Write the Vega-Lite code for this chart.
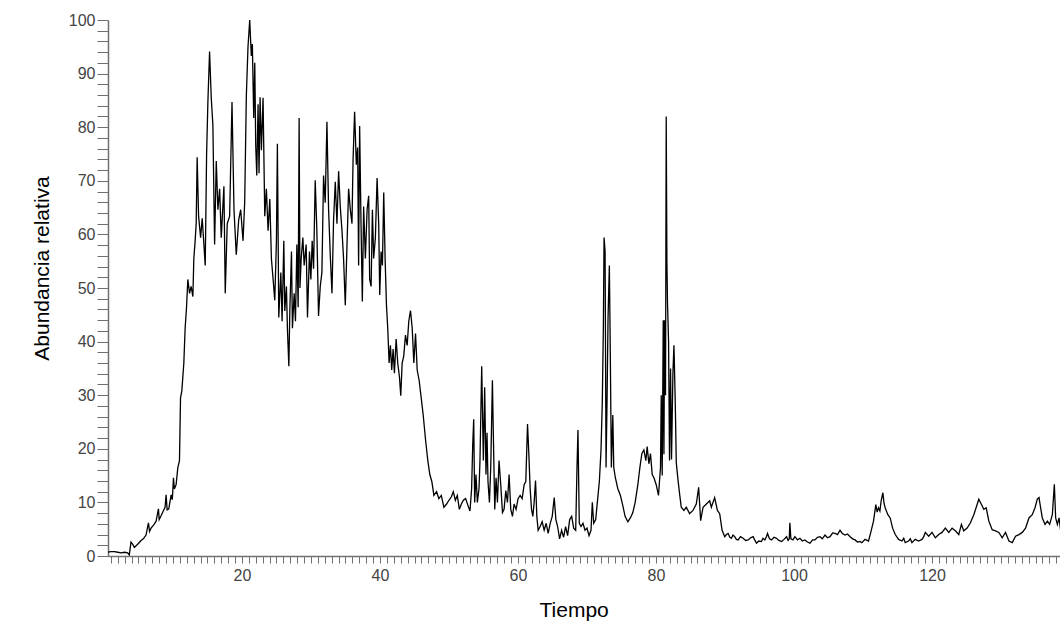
{
  "$schema": "https://vega.github.io/schema/vega-lite/v6.json",
  "width": 952,
  "height": 536,
  "autosize": {"type": "none"},
  "padding": {"left": 108, "top": 20, "right": 0, "bottom": 72},
  "background": "white",
  "config": {"view": {"stroke": null}, "font": "Liberation Sans"},
  "data": {"values": [
    {"t":0.52,"v":0.7},{"t":1.0,"v":0.8},{"t":1.5,"v":0.8},{"t":2.0,"v":0.7},{"t":2.46,"v":0.6},{"t":3.0,"v":0.7},{"t":3.43,"v":0.6},{"t":3.67,"v":0.2},{"t":3.91,"v":2.6},{"t":4.15,"v":2.2},{"t":4.4,"v":1.6},{"t":4.88,"v":2.2},{"t":5.37,"v":2.9},{"t":5.7,"v":3.2},{"t":6.09,"v":3.9},{"t":6.44,"v":6.2},{"t":6.6,"v":4.6},{"t":6.82,"v":5.2},{"t":7.21,"v":5.8},{"t":7.55,"v":6.5},{"t":7.89,"v":8.8},{"t":8.0,"v":6.8},{"t":8.27,"v":7.5},{"t":8.85,"v":9.1},{"t":9.0,"v":11.4},{"t":9.15,"v":8.6},{"t":9.39,"v":8.8},{"t":9.73,"v":11.4},{"t":9.9,"v":10.5},{"t":10.07,"v":14.6},{"t":10.2,"v":12.5},{"t":10.45,"v":13.3},{"t":10.7,"v":16.5},{"t":10.94,"v":17.8},{"t":11.09,"v":29.5},{"t":11.28,"v":30.8},{"t":11.57,"v":36},{"t":11.76,"v":42.5},{"t":11.96,"v":46.4},{"t":12.15,"v":51.6},{"t":12.4,"v":49},{"t":12.63,"v":50.3},{"t":12.88,"v":48.4},{"t":13.02,"v":55.5},{"t":13.21,"v":58.8},{"t":13.36,"v":62},{"t":13.5,"v":74.4},{"t":13.71,"v":63.4},{"t":14.0,"v":59.4},{"t":14.23,"v":63},{"t":14.48,"v":58.1},{"t":14.67,"v":54.2},{"t":14.87,"v":75},{"t":15.06,"v":84.9},{"t":15.3,"v":94.1},{"t":15.54,"v":85.6},{"t":15.78,"v":80.4},{"t":16.03,"v":58.1},{"t":16.27,"v":73.7},{"t":16.51,"v":64.6},{"t":16.76,"v":68.5},{"t":16.99,"v":59.4},{"t":17.38,"v":69},{"t":17.57,"v":49},{"t":17.86,"v":62},{"t":18.21,"v":63.4},{"t":18.55,"v":84.7},{"t":18.84,"v":64.6},{"t":19.17,"v":56.2},{"t":19.52,"v":62.7},{"t":19.81,"v":64.6},{"t":20.15,"v":58.8},{"t":20.39,"v":66},{"t":20.63,"v":85.9},{"t":20.87,"v":95},{"t":21.12,"v":100},{"t":21.35,"v":93.3},{"t":21.5,"v":95.5},{"t":21.7,"v":81.7},{"t":21.85,"v":92},{"t":21.99,"v":76.6},{"t":22.14,"v":71},{"t":22.33,"v":84.3},{"t":22.47,"v":71.4},{"t":22.62,"v":85.6},{"t":22.81,"v":75.7},{"t":23.05,"v":85.5},{"t":23.3,"v":63.4},{"t":23.53,"v":68.5},{"t":23.78,"v":60.7},{"t":24.03,"v":66.6},{"t":24.26,"v":55.5},{"t":24.51,"v":51.6},{"t":24.75,"v":47.7},{"t":24.99,"v":58.8},{"t":25.13,"v":76.9},{"t":25.33,"v":44.5},{"t":25.63,"v":52.9},{"t":25.81,"v":43.8},{"t":26.06,"v":58.8},{"t":26.2,"v":45.7},{"t":26.44,"v":50.3},{"t":26.58,"v":42.5},{"t":26.79,"v":35.4},{"t":26.93,"v":45.7},{"t":27.17,"v":56.8},{"t":27.31,"v":42.5},{"t":27.56,"v":49},{"t":27.75,"v":43.8},{"t":27.95,"v":58.1},{"t":28.14,"v":46.4},{"t":28.28,"v":81.7},{"t":28.4,"v":50},
    {"t":28.58,"v":55.5},{"t":28.82,"v":59.4},{"t":29.01,"v":54.2},{"t":29.3,"v":58.1},{"t":29.49,"v":44.5},{"t":29.78,"v":56.8},{"t":29.98,"v":51.6},{"t":30.17,"v":58.8},{"t":30.37,"v":53.6},{"t":30.61,"v":70.1},{"t":30.85,"v":60.7},{"t":31.09,"v":44.8},{"t":31.34,"v":50.3},{"t":31.58,"v":52.9},{"t":31.82,"v":71},{"t":32.06,"v":65.9},{"t":32.31,"v":81},{"t":32.55,"v":64.6},{"t":32.79,"v":56.2},{"t":33.04,"v":49},{"t":33.27,"v":62.7},{"t":33.52,"v":69.8},{"t":33.76,"v":62},{"t":34.0,"v":71.8},{"t":34.24,"v":65.2},{"t":34.49,"v":60.7},{"t":34.72,"v":55.5},{"t":34.97,"v":46.8},{"t":35.22,"v":58.1},{"t":35.45,"v":68.5},{"t":35.7,"v":64.6},{"t":35.94,"v":62},{"t":36.09,"v":73.6},{"t":36.32,"v":82.9},{"t":36.57,"v":73},{"t":36.76,"v":76.2},{"t":36.9,"v":54.2},{"t":37.05,"v":80.2},{"t":37.25,"v":62},{"t":37.44,"v":47.5},{"t":37.63,"v":65.2},{"t":37.88,"v":55.5},{"t":38.13,"v":64.6},{"t":38.36,"v":67.2},{"t":38.5,"v":51.6},{"t":38.71,"v":50.3},{"t":38.9,"v":64.6},{"t":39.08,"v":55.5},{"t":39.33,"v":59.4},{"t":39.58,"v":70.5},{"t":39.81,"v":62},{"t":39.96,"v":48.7},{"t":40.16,"v":56.8},{"t":40.35,"v":54.2},{"t":40.54,"v":67.8},{"t":40.74,"v":55.5},{"t":40.93,"v":47},{"t":41.12,"v":42.5},{"t":41.32,"v":36},{"t":41.51,"v":39.3},{"t":41.7,"v":34.7},{"t":41.9,"v":38.6},{"t":42.09,"v":34.1},{"t":42.34,"v":40.5},{"t":42.57,"v":36},{"t":42.82,"v":33.4},{"t":43.01,"v":29.9},{"t":43.21,"v":36},{"t":43.44,"v":37.3},{"t":43.69,"v":41.2},{"t":43.94,"v":39.3},{"t":44.17,"v":43.8},{"t":44.42,"v":45.8},{"t":44.67,"v":42.5},{"t":44.9,"v":36},{"t":45.15,"v":41.5},{"t":45.39,"v":34.7},{"t":45.68,"v":32.7},{"t":45.97,"v":29.5},{"t":46.26,"v":26.3},{"t":46.6,"v":21.7},{"t":46.93,"v":17.8},{"t":47.22,"v":15.2},{"t":47.51,"v":13.9},{"t":47.81,"v":11.3},{"t":48.2,"v":12},{"t":48.53,"v":10.7},{"t":48.88,"v":11.3},{"t":49.26,"v":9.1},{"t":49.65,"v":9.7},{"t":49.99,"v":10.4},{"t":50.33,"v":11},{"t":50.62,"v":12},{"t":50.92,"v":10.4},{"t":51.2,"v":11.3},{"t":51.5,"v":8.7},{"t":51.79,"v":9.7},{"t":52.08,"v":10.4},{"t":52.41,"v":10.7},{"t":52.75,"v":9.4},{"t":53.04,"v":8.4},{"t":53.28,"v":12.6},{"t":53.43,"v":20.4},{"t":53.58,"v":25.5},{"t":53.72,"v":10},{"t":53.91,"v":15.2},{"t":54.11,"v":10},{"t":54.35,"v":12.6},{"t":54.49,"v":17.8},
    {"t":54.74,"v":35.4},{"t":54.98,"v":17.8},{"t":55.17,"v":31.5},{"t":55.36,"v":15.2},{"t":55.51,"v":23},{"t":55.65,"v":13.9},{"t":55.86,"v":10},{"t":56.05,"v":16.5},{"t":56.29,"v":32.8},{"t":56.44,"v":21.7},{"t":56.63,"v":8.7},{"t":56.82,"v":14.6},{"t":57.02,"v":10},{"t":57.25,"v":17.8},{"t":57.5,"v":13.3},{"t":57.75,"v":8.1},{"t":57.98,"v":8.7},{"t":58.23,"v":12.2},{"t":58.47,"v":10},{"t":58.71,"v":15.2},{"t":58.95,"v":8.7},{"t":59.2,"v":7.4},{"t":59.43,"v":9.7},{"t":59.72,"v":8.7},{"t":60.01,"v":10.7},{"t":60.31,"v":11.3},{"t":60.6,"v":10.7},{"t":60.89,"v":13.3},{"t":61.13,"v":13.9},{"t":61.38,"v":24.6},{"t":61.57,"v":19.1},{"t":61.76,"v":12.6},{"t":61.96,"v":8.7},{"t":62.15,"v":7.4},{"t":62.34,"v":10},{"t":62.54,"v":14.1},{"t":62.73,"v":7.4},{"t":62.92,"v":4.8},{"t":63.21,"v":5.5},{"t":63.5,"v":6.4},{"t":63.79,"v":4.8},{"t":64.08,"v":6.1},{"t":64.37,"v":4.2},{"t":64.67,"v":6.1},{"t":64.96,"v":7.4},{"t":65.25,"v":10.9},{"t":65.49,"v":6.8},{"t":65.74,"v":5.5},{"t":66.03,"v":3.2},{"t":66.32,"v":4.8},{"t":66.61,"v":3.5},{"t":66.9,"v":5.5},{"t":67.19,"v":3.8},{"t":67.49,"v":6.8},{"t":67.78,"v":7.4},{"t":68.07,"v":5.2},{"t":68.36,"v":4.8},{"t":68.55,"v":16.5},{"t":68.69,"v":23.5},{"t":68.88,"v":6.1},{"t":69.13,"v":5.5},{"t":69.42,"v":6.1},{"t":69.71,"v":4.8},{"t":70.0,"v":5.2},{"t":70.29,"v":3.8},{"t":70.58,"v":4.8},{"t":70.77,"v":10},{"t":70.97,"v":6.1},{"t":71.26,"v":6.8},{"t":71.55,"v":10.7},{"t":71.79,"v":13.9},{"t":72.03,"v":19.8},{"t":72.22,"v":28.9},{"t":72.37,"v":42.5},{"t":72.47,"v":59.4},{"t":72.62,"v":56.9},{"t":72.76,"v":16.5},{"t":72.91,"v":29.5},{"t":73.05,"v":44.5},{"t":73.24,"v":54.2},{"t":73.39,"v":36},{"t":73.53,"v":16.5},{"t":73.74,"v":26.3},{"t":73.88,"v":16.5},{"t":74.11,"v":14.6},{"t":74.46,"v":12.6},{"t":74.84,"v":11.3},{"t":75.19,"v":9.4},{"t":75.52,"v":7.4},{"t":75.92,"v":6.4},{"t":76.29,"v":7.1},{"t":76.64,"v":8.1},{"t":76.98,"v":10},{"t":77.37,"v":13.3},{"t":77.66,"v":16.5},{"t":77.95,"v":19.1},{"t":78.24,"v":19.8},{"t":78.53,"v":17.8},{"t":78.72,"v":20.4},{"t":78.97,"v":17.2},{"t":79.2,"v":19.1},{"t":79.45,"v":15.2},{"t":79.7,"v":14.6},{"t":80.03,"v":13.3},{"t":80.36,"v":11.3},{"t":80.65,"v":16.5},
    {"t":80.76,"v":30},{"t":80.9,"v":15},{"t":81.05,"v":44},{"t":81.15,"v":19},{"t":81.24,"v":44},{"t":81.38,"v":30},{"t":81.48,"v":82},{"t":81.58,"v":55},{"t":81.67,"v":47},{"t":81.82,"v":40},{"t":81.96,"v":17.8},{"t":82.11,"v":35},{"t":82.25,"v":18},{"t":82.45,"v":34},{"t":82.6,"v":39.3},{"t":82.79,"v":28.7},{"t":82.94,"v":17.4},{"t":83.18,"v":14.3},{"t":83.42,"v":11.6},{"t":83.66,"v":9.1},{"t":84.05,"v":8.5},{"t":84.39,"v":9.1},{"t":84.87,"v":7.9},{"t":85.36,"v":8.5},{"t":85.84,"v":9.7},{"t":86.18,"v":12.8},{"t":86.47,"v":6.6},{"t":86.82,"v":9.1},{"t":87.3,"v":9.7},{"t":87.78,"v":10.3},{"t":88.02,"v":9.1},{"t":88.5,"v":10.9},{"t":88.9,"v":8.5},{"t":89.23,"v":7.9},{"t":89.58,"v":4.8},
    {"t":89.96,"v":3.6},{"t":90.2,"v":4.0},{"t":90.45,"v":4.2},{"t":90.7,"v":3.5},{"t":90.93,"v":3.3},{"t":91.15,"v":3.9},{"t":91.41,"v":3.6},{"t":91.65,"v":3.1},{"t":91.9,"v":3.0},{"t":92.25,"v":3.6},{"t":92.63,"v":3.3},{"t":93.0,"v":2.9},{"t":93.36,"v":3.0},{"t":93.7,"v":3.4},{"t":94.08,"v":3.6},{"t":94.3,"v":3.0},{"t":94.56,"v":2.4},{"t":94.9,"v":2.8},{"t":95.29,"v":2.7},{"t":95.5,"v":3.3},{"t":95.77,"v":3.0},{"t":96.0,"v":3.6},{"t":96.16,"v":4.2},{"t":96.45,"v":3.2},{"t":96.74,"v":3.0},{"t":97.1,"v":3.5},{"t":97.47,"v":3.3},{"t":97.8,"v":2.9},{"t":98.2,"v":2.7},{"t":98.55,"v":3.1},{"t":98.92,"v":3.6},{"t":99.15,"v":2.9},{"t":99.31,"v":3.2},{"t":99.4,"v":6.2},{"t":99.55,"v":3.2},{"t":99.85,"v":3.0},{"t":100.13,"v":3.6},{"t":100.5,"v":3.0},{"t":100.86,"v":3.3},{"t":101.2,"v":2.8},{"t":101.58,"v":3.0},{"t":101.95,"v":2.6},{"t":102.31,"v":2.4},{"t":102.7,"v":3.0},{"t":103.04,"v":3.0},{"t":103.4,"v":3.5},{"t":103.77,"v":3.6},{"t":104.1,"v":3.2},{"t":104.49,"v":3.9},{"t":104.85,"v":3.4},{"t":105.22,"v":3.6},{"t":105.6,"v":4.3},{"t":105.95,"v":4.2},{"t":106.3,"v":4.0},{"t":106.67,"v":4.8},{"t":107.0,"v":4.2},{"t":107.4,"v":3.9},{"t":107.75,"v":4.1},{"t":108.13,"v":3.6},{"t":108.5,"v":3.2},{"t":108.85,"v":3.0},{"t":109.2,"v":2.6},{"t":109.5,"v":2.7},
    {"t":109.83,"v":2.5},{"t":110.3,"v":3.1},{"t":110.8,"v":2.8},{"t":111.18,"v":4.7},{"t":111.52,"v":6.5},{"t":111.86,"v":9.6},{"t":112.05,"v":8.2},{"t":112.25,"v":9},{"t":112.45,"v":8.4},{"t":112.63,"v":10.3},{"t":112.88,"v":11.8},{"t":113.05,"v":9.8},{"t":113.21,"v":9},{"t":113.6,"v":7.7},{"t":113.94,"v":7.1},{"t":114.29,"v":5.2},{"t":114.67,"v":4},{"t":115.16,"v":3.1},{"t":115.64,"v":2.8},{"t":115.9,"v":3.3},{"t":116.12,"v":2.5},{"t":116.61,"v":2.8},{"t":116.85,"v":3.2},{"t":117.09,"v":2.5},{"t":117.57,"v":3.1},{"t":118.06,"v":2.8},{"t":118.55,"v":3.1},{"t":118.8,"v":3.6},{"t":119.03,"v":4.4},{"t":119.52,"v":3.7},{"t":120.0,"v":4.4},{"t":120.48,"v":3.4},{"t":120.97,"v":4},{"t":121.45,"v":4.4},{"t":121.93,"v":5.2},{"t":122.43,"v":4.4},{"t":122.91,"v":5.2},{"t":123.39,"v":4.7},{"t":123.88,"v":4},{"t":124.26,"v":5.9},{"t":124.6,"v":4.7},{"t":125.09,"v":5.2},{"t":125.57,"v":6.2},{"t":126.06,"v":7.7},{"t":126.54,"v":9.6},{"t":126.78,"v":10.6},{"t":127.17,"v":9.6},{"t":127.51,"v":8.7},{"t":127.85,"v":9},{"t":128.24,"v":6.5},{"t":128.72,"v":4.9},{"t":129.2,"v":4.7},{"t":129.69,"v":4.4},{"t":130.17,"v":3.4},{"t":130.65,"v":4.4},{"t":131.15,"v":2.8},{"t":131.63,"v":2.5},{"t":132.11,"v":3.7},{"t":132.6,"v":4},{"t":133.08,"v":4.4},{"t":133.56,"v":5.2},{"t":134.05,"v":7.1},{"t":134.53,"v":7.7},{"t":134.93,"v":9},{"t":135.26,"v":10.6},{"t":135.51,"v":10.9},{"t":135.74,"v":9},{"t":135.99,"v":7.1},{"t":136.38,"v":5.9},{"t":136.72,"v":6.5},{"t":137.05,"v":5.9},{"t":137.44,"v":7.7},{"t":137.73,"v":13.4},{"t":137.92,"v":7.1},{"t":138.17,"v":5.9},{"t":138.41,"v":7.1},{"t":138.65,"v":4.7},{"t":138.8,"v":19.6},{"t":138.9,"v":22}
  ]},
  "mark": {"type": "line", "color": "black", "strokeWidth": 1.3, "clip": true, "interpolate": "linear"},
  "encoding": {
    "x": {
      "field": "t", "type": "quantitative",
      "scale": {"domain": [0.58, 138.55], "nice": false, "zero": false},
      "axis": {
        "title": "Tiempo",
        "values": [1,2,3,4,5,6,7,8,9,10,11,12,13,14,15,16,17,18,19,20,21,22,23,24,25,26,27,28,29,30,31,32,33,34,35,36,37,38,39,40,41,42,43,44,45,46,47,48,49,50,51,52,53,54,55,56,57,58,59,60,61,62,63,64,65,66,67,68,69,70,71,72,73,74,75,76,77,78,79,80,81,82,83,84,85,86,87,88,89,90,91,92,93,94,95,96,97,98,99,100,101,102,103,104,105,106,107,108,109,110,111,112,113,114,115,116,117,118,119,120,121,122,123,124,125,126,127,128,129,130,131,132,133,134,135,136,137,138],
        "labelExpr": "datum.value % 20 === 0 ? datum.label : ''",
        "labelOverlap": false, "labelBound": false, "labelFlush": false,
        "grid": false,
        "domainColor": "#707070", "domainWidth": 1.5,
        "tickColor": "#707070", "tickWidth": 1, "tickSize": 7,
        "labelPadding": 4, "labelFontSize": 16, "labelColor": "#444444", "labelFont": "Liberation Sans",
        "titleFont": "Liberation Sans", "titleFontSize": 21, "titleFontWeight": "normal", "titleColor": "#000000",
        "titleX": 431, "titleY": 60, "titleAlign": "left", "titleBaseline": "alphabetic",
        "encode": {"ticks": {"update": {"y2": {"signal": "datum.value % 5 === 0 ? 7 : 3"}}}}
      }
    },
    "y": {
      "field": "v", "type": "quantitative",
      "scale": {"domain": [0, 100], "nice": false, "zero": false},
      "axis": {
        "title": "Abundancia relativa",
        "values": [0,2,4,6,8,10,12,14,16,18,20,22,24,26,28,30,32,34,36,38,40,42,44,46,48,50,52,54,56,58,60,62,64,66,68,70,72,74,76,78,80,82,84,86,88,90,92,94,96,98,100],
        "labelExpr": "datum.value % 10 === 0 ? datum.label : ''",
        "labelOverlap": false, "labelBound": false, "labelFlush": false,
        "grid": false,
        "domainColor": "#707070", "domainWidth": 1.5,
        "tickColor": "#707070", "tickWidth": 1, "tickSize": 11,
        "labelPadding": 2, "labelFontSize": 16, "labelColor": "#444444", "labelFont": "Liberation Sans",
        "titleFont": "Liberation Sans", "titleFontSize": 21, "titleFontWeight": "normal", "titleColor": "#000000",
        "titleX": -66, "titleY": 248, "titleAngle": 270, "titleAlign": "center", "titleBaseline": "middle",
        "encode": {"ticks": {"update": {"x2": {"signal": "datum.value % 10 === 0 ? -11 : -6"}}}}
      }
    }
  }
}
